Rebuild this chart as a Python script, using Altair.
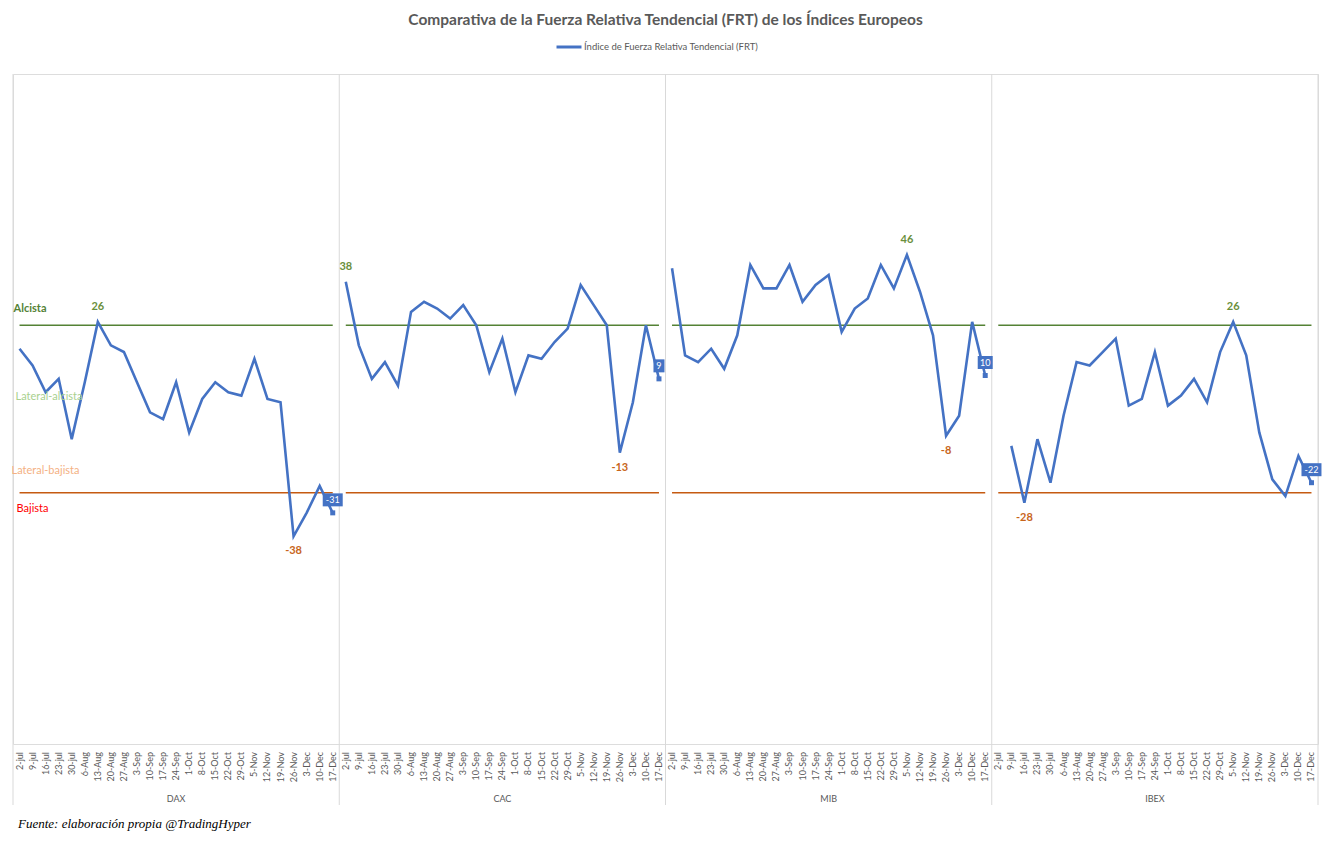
import altair as alt
import pandas as pd

weeks = ["2-jul", "9-jul", "16-jul", "23-jul", "30-jul", "6-Aug", "13-Aug", "20-Aug",
         "27-Aug", "3-Sep", "10-Sep", "17-Sep", "24-Sep", "1-Oct", "8-Oct", "15-Oct",
         "22-Oct", "29-Oct", "5-Nov", "12-Nov", "19-Nov", "26-Nov", "3-Dec", "10-Dec", "17-Dec"]
indices = ["DAX", "CAC", "MIB", "IBEX"]
dax = [18, 13, 5, 9, -9, 8, 26, 19, 17, 8, -1, -3, 8, -7, 3, 8, 5, 4, 15, 3, 2, -38, -31, -23, -31]
cac = [38, 19, 9, 14, 7, 29, 32, 30, 27, 31, 25, 11, 21, 5, 16, 15, 20, 24, 37, 31, 25, -13, 2, 25, 9]
mib = [42, 16, 14, 18, 12, 22, 43, 36, 36, 43, 32, 37, 40, 23, 30, 33, 43, 36, 46, 35, 22, -8, -2, 26, 10]
ibex = [None, -11, -28, -9, -22, -2, 14, 13, 17, 21, 1, 3, 17, 1, 4, 9, 2, 17, 26, 16, -7, -21, -26, -14, -22]
alcista = 25
bajista = -25
serie_name = "Índice de Fuerza Relativa Tendencial (FRT)"
title_text = "Comparativa de la Fuerza Relativa Tendencial (FRT) de los Índices Europeos"
footer_text = "Fuente: elaboración propia @TradingHyper"

series = [dax, cac, mib, ibex]
n = len(weeks)
FONT = "Lato"
W, H = 1305, 670

rows = []
for p, (name, vals) in enumerate(zip(indices, series)):
    for w, v in enumerate(vals):
        rows.append({"panel": name, "idx": p * n + w, "week": weeks[w], "value": v, "serie": serie_name})
grid = pd.DataFrame(rows)
df = grid.dropna(subset=["value"])

thr = pd.DataFrame([{"panel": name, "start": p * n, "end": p * n + n - 1,
                     "alc": alcista, "baj": bajista} for p, name in enumerate(indices)])
seps = pd.DataFrame({"x": [p * n - 0.5 for p in range(len(indices) + 1)]})
names = pd.DataFrame({"panel": indices, "center": [p * n + (n - 1) / 2 for p in range(len(indices))]})

xscale = alt.Scale(domain=[-0.5, len(indices) * n - 0.5], nice=False, zero=False)
yscale = alt.Scale(domain=[-100, 100], nice=False)

x_axis = alt.Axis(values=list(range(len(indices) * n)), labels=False, ticks=False, grid=False,
                  domainColor="#a6a6a6", domainWidth=1.5, title=None)
y_axis = alt.Axis(values=[0], grid=True, gridColor="#d9d9d9", labels=False, ticks=False,
                  domain=False, title=None)

X = lambda f: alt.X(f, scale=xscale, axis=None)
Y = lambda f: alt.Y(f, scale=yscale, axis=None)

sep_layer = alt.Chart(seps).mark_rule(color="#d9d9d9", strokeWidth=1).encode(
    x=X("x:Q"), y=alt.value(0), y2=alt.value(731))

alc_layer = alt.Chart(thr).mark_rule(color="#548235", strokeWidth=1.6).encode(
    x=X("start:Q"), x2="end:Q", y=Y("alc:Q"))
baj_layer = alt.Chart(thr).mark_rule(color="#C55A11", strokeWidth=1.6).encode(
    x=X("start:Q"), x2="end:Q", y=Y("baj:Q"))

line_layer = alt.Chart(df).mark_line(strokeWidth=2.6).encode(
    x=alt.X("idx:Q", scale=xscale, axis=x_axis),
    y=alt.Y("value:Q", scale=yscale, axis=y_axis),
    detail="panel:N",
    color=alt.Color("serie:N", scale=alt.Scale(domain=[serie_name], range=["#4472C4"]),
                    legend=alt.Legend(title=None, orient="none", legendX=542, legendY=-41,
                                      symbolType="stroke", symbolSize=625, symbolStrokeWidth=3,
                                      labelFont=FONT, labelFontSize=9.5, labelColor="#595959",
                                      labelOffset=1, labelLimit=400)),
)

week_labels = alt.Chart(grid).mark_text(
    font=FONT, fontSize=9, color="#595959", angle=270, align="right", baseline="middle").encode(
    x=X("idx:Q"), y=alt.value(H + 8), text="week:N")

base = alt.Chart(df).transform_joinaggregate(
    vmax="max(value)", vmin="min(value)", last="max(idx)", groupby=["panel"]).transform_calculate(
    lab="'' + datum.value", len="length('' + datum.value)")

max_lab = base.transform_filter("datum.value == datum.vmax").mark_text(
    font=FONT, fontSize=11, fontWeight="bold", color="#6A8F3C", dy=-15).encode(
    x=X("idx:Q"), y=Y("value:Q"), text="lab:N")
min_lab = base.transform_filter("datum.value == datum.vmin").mark_text(
    font=FONT, fontSize=11, fontWeight="bold", color="#C8651B", dy=15).encode(
    x=X("idx:Q"), y=Y("value:Q"), text="lab:N")

last = base.transform_filter("datum.idx == datum.last")
boxes = []
for ln, bw in [(1, 11), (2, 15), (3, 20)]:
    boxes.append(last.transform_filter("datum.len == %d" % ln).mark_rect(
        width=bw, height=13, yOffset=-13, color="#4472C4").encode(x=X("idx:Q"), y=Y("value:Q")))
last_txt = last.mark_text(font=FONT, fontSize=9, color="white", dy=-13).encode(
    x=X("idx:Q"), y=Y("value:Q"), text="lab:N")
last_pt = last.mark_square(size=25, color="#4472C4", opacity=1).encode(x=X("idx:Q"), y=Y("value:Q"))

first = pd.DataFrame({"idx": [0], "alc": [alcista], "zero": [0], "baj": [bajista]})
side = [
    alt.Chart(first).mark_text(text="Alcista", font=FONT, fontSize=11, fontWeight="bold", color="#548235",
                               align="left", dx=-6, dy=-16).encode(x=X("idx:Q"), y=Y("alc:Q")),
    alt.Chart(first).mark_text(text="Lateral-alcista", font=FONT, fontSize=11, color="#A9D18E",
                               align="left", dx=-4, dy=-12).encode(x=X("idx:Q"), y=Y("zero:Q")),
    alt.Chart(first).mark_text(text="Lateral-bajista", font=FONT, fontSize=11, color="#F4B183",
                               align="left", dx=-8, dy=-22).encode(x=X("idx:Q"), y=Y("baj:Q")),
    alt.Chart(first).mark_text(text="Bajista", font=FONT, fontSize=11, color="#FF0000",
                               align="left", dx=-3, dy=16).encode(x=X("idx:Q"), y=Y("baj:Q")),
]

name_layer = alt.Chart(names).mark_text(font=FONT, fontSize=9, color="#595959").encode(
    x=X("center:Q"), y=alt.value(725), text="panel:N")

footer = alt.Chart(pd.DataFrame({"t": [footer_text]})).mark_text(
    font="Liberation Serif", fontStyle="italic", fontSize=13, color="#000000", align="left").encode(
    x=alt.value(5), y=alt.value(750), text="t:N")

chart = alt.layer(sep_layer, alc_layer, baj_layer, line_layer, week_labels, max_lab, min_lab, *boxes,
                  last_txt, last_pt, *side, name_layer, footer).properties(
    width=W, height=H,
    title=alt.TitleParams(title_text, font=FONT, fontSize=15.5, fontWeight="bold", color="#595959",
                          anchor="middle", frame="group", offset=5),
    padding={"left": 5, "top": 66, "right": 5, "bottom": 90},
    autosize=alt.AutoSizeParams(type="none"),
).configure_view(stroke=None).configure(background="white")

chart.save("out.html", embed_options={"renderer": "svg", "actions": False})
